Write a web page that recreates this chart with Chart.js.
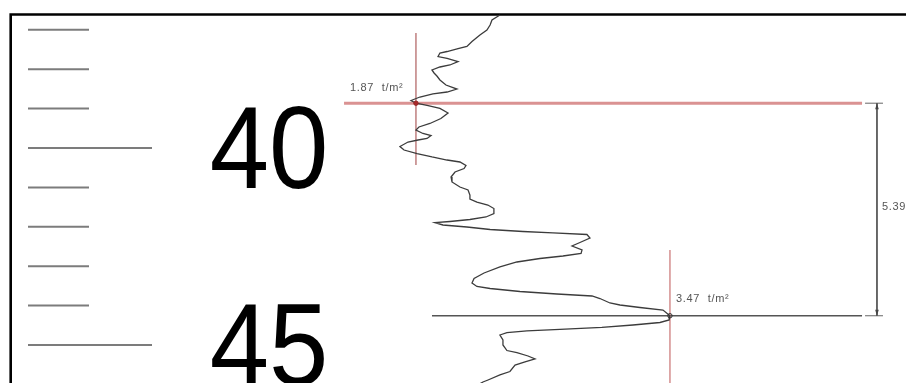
<!DOCTYPE html>
<html>
<head>
<meta charset="utf-8">
<script src="https://cdn.jsdelivr.net/npm/chart.js@4.4.1/dist/chart.umd.min.js"></script>
<style>
  html, body { margin: 0; padding: 0; background: #fff; overflow: hidden; }
  canvas { display: block; }
</style>
</head>
<body>
<canvas id="log" width="906" height="383"></canvas>
<script>
// Sounding trace: resistance (t/m²) against depth (m)
const traceResistance = [
  2.399, 2.349, 2.337, 2.317, 2.273, 2.223, 2.191, 2.135, 2.066, 2.021,
  2.009, 2.066, 2.135, 2.084, 2.021, 1.971, 1.984, 2.002, 2.021, 2.059,
  2.128, 2.066, 1.977, 1.895, 1.839, 1.87, 1.940, 2.021, 2.072, 2.027,
  1.958, 1.889, 1.870, 1.914, 1.965, 1.940, 1.883, 1.820, 1.769, 1.795,
  1.877, 1.971, 2.066, 2.147, 2.185, 2.173, 2.116, 2.091, 2.097, 2.147,
  2.198, 2.210, 2.210, 2.254, 2.323, 2.361, 2.361, 2.311, 2.210, 2.084,
  1.990, 2.040, 2.191, 2.337, 2.544, 2.733, 2.947, 2.966, 2.903, 2.853,
  2.916, 2.910, 2.796, 2.651, 2.506, 2.399, 2.299, 2.236, 2.223, 2.254,
  2.337, 2.525, 2.758, 2.979, 3.029, 3.092, 3.155, 3.281, 3.426, 3.47,
  3.465, 3.407, 3.237, 3.041, 2.777, 2.569, 2.443, 2.399, 2.418, 2.418,
  2.443, 2.506, 2.576, 2.620, 2.557, 2.494, 2.462, 2.399, 2.324, 2.292, 2.248
];
const traceDepth = [
  36.624, 36.751, 36.878, 37.005, 37.132, 37.297, 37.424, 37.475, 37.551, 37.589,
  37.678, 37.728, 37.805, 37.893, 37.944, 38.020, 38.096, 38.173, 38.274, 38.401,
  38.503, 38.579, 38.629, 38.706, 38.794, 38.863, 38.921, 38.997, 39.112, 39.251,
  39.378, 39.467, 39.543, 39.632, 39.683, 39.759, 39.797, 39.848, 39.962, 40.051,
  40.140, 40.228, 40.305, 40.355, 40.444, 40.520, 40.609, 40.736, 40.863, 40.990,
  41.066, 41.193, 41.294, 41.371, 41.447, 41.536, 41.662, 41.751, 41.815, 41.865,
  41.896, 41.954, 42.005, 42.069, 42.119, 42.152, 42.195, 42.284, 42.398, 42.487,
  42.589, 42.678, 42.741, 42.805, 42.893, 43.020, 43.173, 43.312, 43.426, 43.515,
  43.566, 43.642, 43.706, 43.756, 43.820, 43.934, 43.985, 44.048, 44.112, 44.258,
  44.365, 44.429, 44.492, 44.551, 44.602, 44.640, 44.688, 44.746, 44.873, 45.000,
  45.140, 45.195, 45.279, 45.355, 45.431, 45.508, 45.673, 45.761, 45.888, 45.939, 46.041
];

// Picked layer boundaries: resistance value and depth
const pickResistance = [1.87, 3.47];
const pickDepth = [38.863, 44.258];
const pickUnit = 't/m²';

// Depth ruler
const rulerDepths = [37, 38, 39, 40, 41, 42, 43, 44, 45, 46];
const rulerLabelDepths = [40, 45];
const rulerLabels = ['40', '45'];

// Guide-line extents in resistance units
const topGuideFrom = 1.417;
const bottomGuideFrom = 1.971;
const guideTo = 4.680;
const dimensionAt = 4.774;
const dimTickFrom = 4.699;
const dimTickTo = 4.812;
const upperPickSpan = [37.081, 40.431];
const lowerPickSpan = [42.589, 46.1];

// Axis ranges
const resistanceRange = [-0.7502, 4.9569];
const depthRange = [36.2437, 45.9645];

const FONT = '"Liberation Sans", Arial, Helvetica, sans-serif';

const seg = (pts, color, width, order) => ({
  data: pts, showLine: true, borderColor: color, borderWidth: width,
  pointRadius: 0, fill: false, tension: 0, order
});

const [d1, d2] = pickDepth;
const datasets = [
  seg([{x: topGuideFrom, y: d1}, {x: guideTo, y: d1}], 'rgba(205,110,110,0.75)', 3, 5),
  seg([{x: bottomGuideFrom, y: d2}, {x: guideTo, y: d2}], '#555', 1.5, 5),
  seg([{x: pickResistance[0], y: upperPickSpan[0]}, {x: pickResistance[0], y: upperPickSpan[1]}], 'rgb(175,95,95)', 1.2, 4),
  seg([{x: pickResistance[1], y: lowerPickSpan[0]}, {x: pickResistance[1], y: lowerPickSpan[1]}], 'rgb(205,125,125)', 1.3, 4),
  seg([{x: dimensionAt, y: d1}, {x: dimensionAt, y: d2}], '#555', 1, 4),
  seg([{x: dimTickFrom, y: d1}, {x: dimTickTo, y: d1}], '#666', 1, 4),
  seg([{x: dimTickFrom, y: d2}, {x: dimTickTo, y: d2}], '#666', 1, 4),
  {
    data: traceResistance.map((v, i) => ({x: v, y: traceDepth[i]})),
    showLine: true, borderColor: '#3c3c3c', borderWidth: 1.3,
    pointRadius: 0, tension: 0, fill: false, order: 2
  },
  {
    data: pickResistance.map((v, i) => ({x: v, y: pickDepth[i]})),
    showLine: false, pointRadius: 2.2, pointBorderWidth: 1,
    pointBackgroundColor: ['rgb(170,40,40)', 'rgba(0,0,0,0)'],
    pointBorderColor: ['rgb(150,40,40)', '#333'], order: 1
  }
];

const sketch = {
  id: 'sketch',
  beforeDraw(chart) {
    const {ctx, width, height} = chart;
    ctx.save();
    ctx.fillStyle = '#fff';
    ctx.fillRect(0, 0, width, height);
    ctx.restore();
  },
  beforeDatasetsDraw(chart) {
    const {ctx, chartArea: a, scales: {y}} = chart;
    ctx.save();
    // ruler ticks
    ctx.strokeStyle = '#7c7c7c';
    ctx.lineWidth = 2;
    rulerDepths.forEach(d => {
      const py = y.getPixelForValue(d);
      const long = rulerLabelDepths.includes(d);
      ctx.beginPath();
      ctx.moveTo(a.left + 28, py);
      ctx.lineTo(a.left + (long ? 152 : 89), py);
      ctx.stroke();
    });
    // ruler numbers
    ctx.fillStyle = '#000';
    ctx.font = '116px ' + FONT;
    ctx.textAlign = 'center';
    ctx.textBaseline = 'alphabetic';
    rulerLabels.forEach((t, i) => {
      const py = y.getPixelForValue(rulerLabelDepths[i]);
      ctx.save();
      ctx.translate(a.left + 269, py + 40);
      ctx.scale(0.92, 1);
      ctx.fillText(t, 0, 0);
      ctx.restore();
    });
    // frame
    ctx.strokeStyle = '#000';
    ctx.lineWidth = 2.6;
    ctx.beginPath();
    ctx.moveTo(a.right, 14.5);
    ctx.lineTo(10.7, 14.5);
    ctx.lineTo(10.7, a.bottom);
    ctx.stroke();
    ctx.restore();
  },
  afterDatasetsDraw(chart) {
    const {ctx, scales: {x, y}} = chart;
    ctx.save();
    ctx.fillStyle = '#555';
    ctx.font = '11px ' + FONT;
    ctx.letterSpacing = '0.7px';
    ctx.textBaseline = 'alphabetic';
    ctx.textAlign = 'left';
    const fmt = v => v.toFixed(2);
    ctx.fillText(fmt(pickResistance[0]) + '  ' + pickUnit,
      x.getPixelForValue(pickResistance[0]) - 66, y.getPixelForValue(d1) - 12.5);
    ctx.fillText(fmt(pickResistance[1]) + '  ' + pickUnit,
      x.getPixelForValue(pickResistance[1]) + 6, y.getPixelForValue(d2) - 14);
    // thickness between the two picks
    const mid = (y.getPixelForValue(d1) + y.getPixelForValue(d2)) / 2;
    ctx.fillText((d2 - d1).toFixed(3), x.getPixelForValue(dimensionAt) + 5, mid + 1);
    // dimension arrowheads
    ctx.fillStyle = '#444';
    const dx = x.getPixelForValue(dimensionAt);
    [[d1, 1], [d2, -1]].forEach(([d, s]) => {
      const py = y.getPixelForValue(d);
      ctx.beginPath();
      ctx.moveTo(dx, py);
      ctx.lineTo(dx - 1.8, py + s * 6);
      ctx.lineTo(dx + 1.8, py + s * 6);
      ctx.closePath();
      ctx.fill();
    });
    ctx.restore();
  }
};

new Chart(document.getElementById('log'), {
  type: 'scatter',
  data: { datasets },
  options: {
    responsive: false,
    animation: false,
    events: [],
    layout: { padding: 0, autoPadding: false },
    plugins: { legend: { display: false }, tooltip: { enabled: false }, title: { display: false } },
    scales: {
      x: { type: 'linear', display: false, min: resistanceRange[0], max: resistanceRange[1] },
      y: { type: 'linear', display: false, reverse: true, min: depthRange[0], max: depthRange[1] }
    }
  },
  plugins: [sketch]
});
</script>
</body>
</html>
